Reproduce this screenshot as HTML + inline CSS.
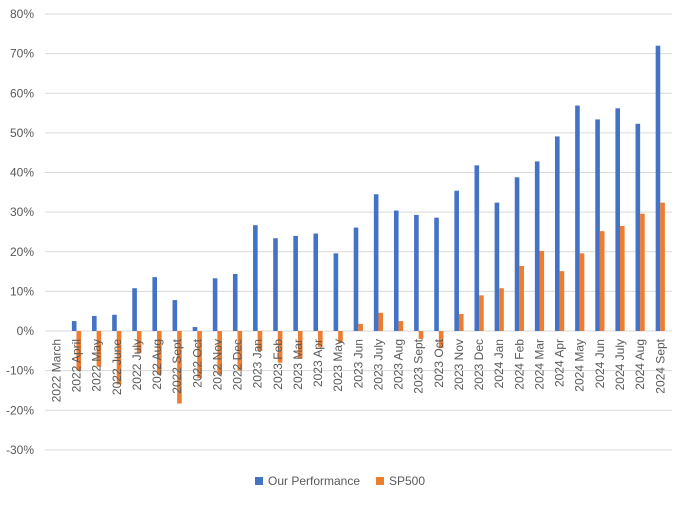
<!DOCTYPE html>
<html><head><meta charset="utf-8"><style>
body{margin:0;background:#fff;font-family:"Liberation Sans",sans-serif;}
</style></head><body>
<svg id="chart" width="684" height="504" xmlns="http://www.w3.org/2000/svg" font-family="Liberation Sans, sans-serif">
<g id="grid"></g>
<g id="ylab"></g>
<g id="bars"></g>
<g id="xlab"></g>
<g>
<rect x="255" y="477" width="8" height="8" fill="#4472C4"/>
<text x="268" y="485" font-size="12" fill="#595959">Our Performance</text>
<rect x="376" y="477" width="8" height="8" fill="#ED7D31"/>
<text x="389" y="485" font-size="12" fill="#595959">SP500</text>
</g>
</svg>
<script>
const categories=["2022 March","2022 April","2022 May","2022 June","2022 July","2022 Aug","2022 Sept","2022 Oct","2022 Nov","2022 Dec","2023 Jan","2023 Feb","2023 Mar","2023 Apr","2023 May","2023 Jun","2023 July","2023 Aug","2023 Sept","2023 Oct","2023 Nov","2023 Dec","2024 Jan","2024 Feb","2024 Mar","2024 Apr","2024 May","2024 Jun","2024 July","2024 Aug","2024 Sept"];
const ourPerformance=[0,2.5,3.8,4.1,10.8,13.6,7.8,1.0,13.3,14.4,26.7,23.4,24.0,24.6,19.6,26.1,34.5,30.4,29.3,28.6,35.4,41.8,32.4,38.8,42.8,49.1,56.9,53.4,56.2,52.3,72.0];
const sp500=[0,-10,-9,-13.5,-5.5,-11,-18.3,-11.9,-11,-10,-5,-8,-7,-4,-3,1.8,4.6,2.5,-2,-4.3,4.3,9,10.8,16.4,20.2,15.1,19.6,25.2,26.5,29.6,32.4];
const yTicks=[-30,-20,-10,0,10,20,30,40,50,60,70,80];
const NS="http://www.w3.org/2000/svg";
const x0=46.3,cw=20.13,bw=4.6;
function y(v){return 331-v*3.9625;}
function cx(i){return x0+cw*(i+0.5);}
function mk(tag,attrs,parent){const e=document.createElementNS(NS,tag);for(const k in attrs)e.setAttribute(k,attrs[k]);parent.appendChild(e);return e;}
const grid=document.getElementById('grid'),ylab=document.getElementById('ylab'),bars=document.getElementById('bars'),xlab=document.getElementById('xlab');
yTicks.forEach(t=>{
  const l=mk('line',{x1:45,x2:672,y1:y(t),y2:y(t),stroke:'#d9d9d9','stroke-width':1},grid);
  
  
  const tx=mk('text',{x:34,y:y(t)+4,'text-anchor':'end','font-size':12,fill:'#595959'},ylab);
  tx.textContent=t+'%';
  
  
});
categories.forEach((c,i)=>{
  const c0=cx(i);
  const v1=ourPerformance[i],v2=sp500[i];
  const b1=mk('rect',{x:c0-bw,y:Math.min(y(v1),y(0)),width:bw,height:Math.abs(y(v1)-y(0)),fill:'#4472C4'},bars);
  
  
  const b2=mk('rect',{x:c0,y:Math.min(y(v2),y(0)),width:bw,height:Math.abs(y(v2)-y(0)),fill:'#ED7D31'},bars);
  
  
  const t=mk('text',{transform:`translate(${c0+4},339) rotate(-90)`,'text-anchor':'end','font-size':12,fill:'#595959'},xlab);
  t.textContent=c;
  
  
});
</script>
</body></html>
